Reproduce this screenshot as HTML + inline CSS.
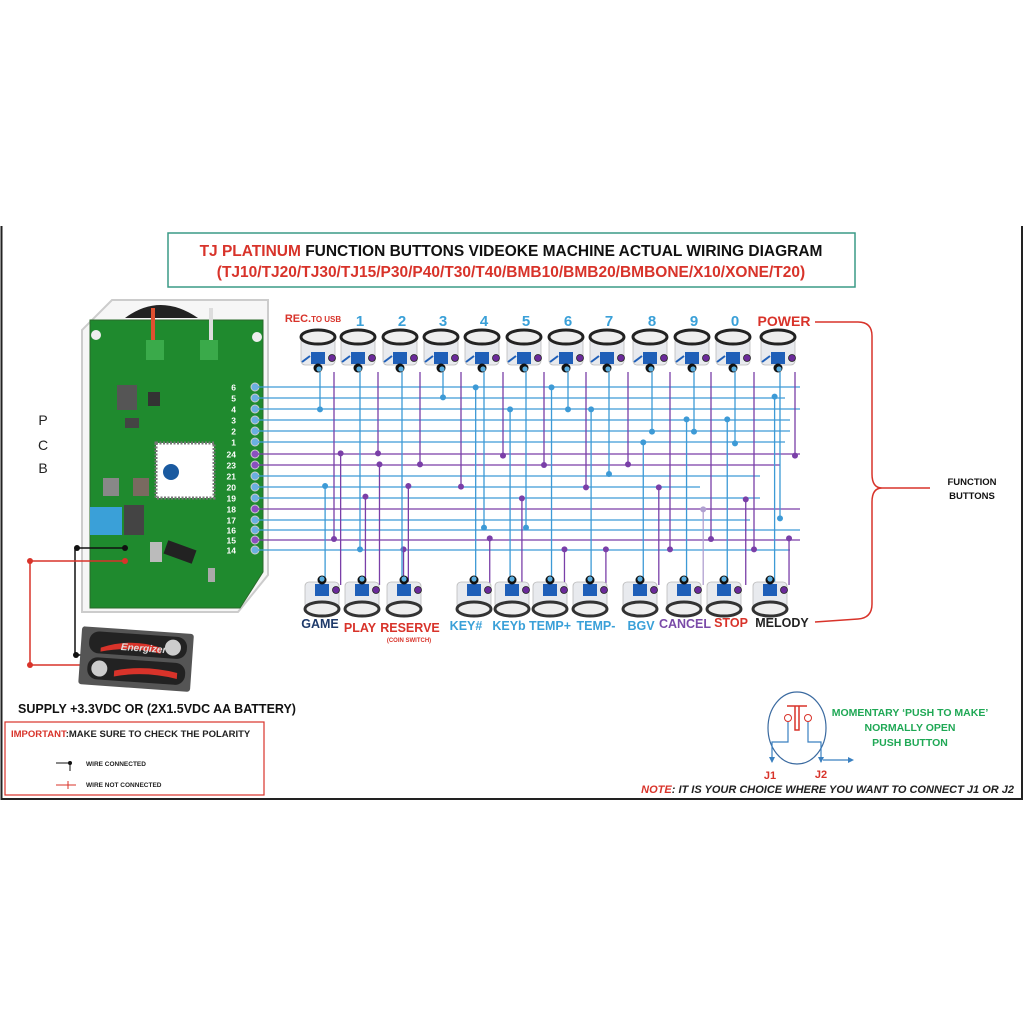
<!DOCTYPE html>
<html><head><meta charset="utf-8"><style>
html,body{margin:0;padding:0;background:#fff;width:1024px;height:1024px;overflow:hidden}
svg text{font-family:"Liberation Sans",sans-serif;font-weight:bold}
</style></head><body>
<svg id="s" width="1024" height="1024" viewBox="0 0 1024 1024" xmlns="http://www.w3.org/2000/svg">
<rect width="1024" height="1024" fill="#fff"/>
<path d="M1.5 226 V799 H1022 V226" fill="none" stroke="#222" stroke-width="2"/>
<!-- title -->
<rect x="168" y="233" width="687" height="54" fill="#fff" stroke="#3a9a86" stroke-width="1.5"/>
<text x="511" y="256" font-size="15.5" text-anchor="middle" fill="#111"><tspan fill="#d8332a">TJ PLATINUM</tspan> FUNCTION BUTTONS VIDEOKE MACHINE ACTUAL WIRING DIAGRAM</text>
<text x="511" y="277" font-size="15.5" text-anchor="middle" fill="#d8332a">(TJ10/TJ20/TJ30/TJ15/P30/P40/T30/T40/BMB10/BMB20/BMBONE/X10/XONE/T20)</text>
<!-- PCB -->
<path d="M112 300 H268 V575 L238 612 H82 V330 Z" fill="#f6f6f6" stroke="#ccc" stroke-width="2"/>
<path d="M125 318 Q160 292 198 318 Z" fill="#222"/>
<path d="M90 320 H263 V572 L240 608 H90 Z" fill="#1f8a2e"/>
<path d="M90 320 H263 V572 L240 608 H90 Z" fill="none" stroke="#2a6a2a" stroke-width="1"/>
<circle cx="96" cy="335" r="5" fill="#eee"/><circle cx="257" cy="337" r="5" fill="#eee"/>
<rect x="151" y="308" width="4" height="35" fill="#e05030"/>
<rect x="209" y="308" width="4" height="35" fill="#ddd"/>
<rect x="146" y="340" width="18" height="20" fill="#3aaa4a"/><rect x="200" y="340" width="18" height="20" fill="#3aaa4a"/>
<rect x="117" y="385" width="20" height="25" fill="#555"/><rect x="148" y="392" width="12" height="14" fill="#333"/>
<rect x="125" y="418" width="14" height="10" fill="#444"/>
<rect x="156" y="443" width="58" height="55" fill="#fff" stroke="#777" stroke-width="3" stroke-dasharray="2 1.5"/>
<circle cx="171" cy="472" r="8" fill="#1a5aa0"/>
<rect x="103" y="478" width="16" height="18" fill="#888"/><rect x="133" y="478" width="16" height="18" fill="#7a6a60"/>
<rect x="90" y="507" width="32" height="28" fill="#3aa0d8"/>
<rect x="124" y="505" width="20" height="30" fill="#444"/>
<rect x="165" y="545" width="30" height="14" fill="#222" transform="rotate(20 180 552)"/>
<rect x="150" y="542" width="12" height="20" fill="#bbb"/><rect x="208" y="568" width="7" height="14" fill="#aaa"/>
<g id="pins"></g>
<text x="43" y="425" font-size="14" font-weight="normal" style="font-weight:normal" text-anchor="middle" fill="#222">P</text>
<text x="43" y="450" font-size="14" style="font-weight:normal" text-anchor="middle" fill="#222">C</text>
<text x="43" y="473" font-size="14" style="font-weight:normal" text-anchor="middle" fill="#222">B</text>
<g id="wires"></g>
<g id="btns"></g>
<!-- labels top -->
<g font-size="15" fill="#3aa0d8" text-anchor="middle" id="toplab"></g>
<text x="313" y="322" font-size="11" fill="#d8332a" text-anchor="middle">REC.<tspan font-size="8">TO USB</tspan></text>
<text x="784" y="326" font-size="14" fill="#d8332a" text-anchor="middle">POWER</text>
<!-- bottom labels -->
<g font-size="12.5">
<text x="320" y="628" fill="#1e3a6a" text-anchor="middle">GAME</text>
<text x="360" y="632" fill="#d8332a" text-anchor="middle">PLAY</text>
<text x="410" y="632" fill="#d8332a" text-anchor="middle">RESERVE</text>
<text x="409" y="642" font-size="6" fill="#d8332a" text-anchor="middle">(COIN SWITCH)</text>
<text x="466" y="630" fill="#3aa0d8" text-anchor="middle">KEY#</text>
<text x="509" y="630" fill="#3aa0d8" text-anchor="middle">KEYb</text>
<text x="550" y="630" fill="#3aa0d8" text-anchor="middle">TEMP+</text>
<text x="596" y="630" fill="#3aa0d8" text-anchor="middle">TEMP-</text>
<text x="641" y="630" fill="#3aa0d8" text-anchor="middle">BGV</text>
<text x="685" y="628" fill="#7a4aa8" text-anchor="middle">CANCEL</text>
<text x="731" y="627" fill="#d8332a" text-anchor="middle">STOP</text>
<text x="782" y="627" fill="#222" text-anchor="middle">MELODY</text>
</g>
<!-- bracket -->
<path d="M815 322 H858 Q872 322 872 336 V474 Q872 488 882 488 Q872 488 872 502 V604 Q872 618 858 619 L815 622" fill="none" stroke="#d8332a" stroke-width="1.5"/>
<path d="M882 488 H930" stroke="#d8332a" stroke-width="1.5"/>
<text x="972" y="485" font-size="9.5" fill="#111" text-anchor="middle">FUNCTION</text>
<text x="972" y="499" font-size="9.5" fill="#111" text-anchor="middle">BUTTONS</text>
<!-- battery wiring -->
<path d="M75 548 H125 M75 548 V655 H88" stroke="#111" stroke-width="1.5" fill="none"/>
<path d="M30 561 H125 M30 561 V665 H85" stroke="#d8332a" stroke-width="1.5" fill="none"/>
<circle cx="77" cy="548" r="3" fill="#111"/><circle cx="125" cy="548" r="3" fill="#111"/>
<circle cx="30" cy="561" r="3" fill="#d8332a"/><circle cx="125" cy="561" r="3" fill="#d8332a"/><circle cx="30" cy="665" r="3" fill="#d8332a"/><circle cx="76" cy="655" r="3" fill="#111"/>
<g transform="rotate(4 135 660)">
<rect x="80" y="630" width="112" height="58" rx="3" fill="#555"/>
<rect x="88" y="634" width="98" height="22" rx="10" fill="#222"/>
<rect x="88" y="660" width="98" height="22" rx="10" fill="#222"/>
<path d="M100 650 Q130 638 160 646 L160 652 Q130 646 100 654Z" fill="#d8332a"/>
<path d="M115 672 Q145 664 178 670 L178 676 Q145 670 115 678Z" fill="#d8332a"/>
<text x="120" y="651" font-size="10" fill="#ddd" font-style="italic">Energizer</text>
<circle cx="172" cy="645" r="8" fill="#ccc"/><circle cx="100" cy="671" r="8" fill="#ccc"/>
</g>
<text x="18" y="713" font-size="12.5" fill="#111">SUPPLY +3.3VDC OR (2X1.5VDC AA BATTERY)</text>
<rect x="5" y="722" width="259" height="73" fill="none" stroke="#d8332a" stroke-width="1.2"/>
<text x="11" y="737" font-size="9.5" fill="#d8332a">IMPORTANT<tspan fill="#222">:MAKE SURE TO CHECK THE POLARITY</tspan></text>
<path d="M56 763 H70 V771" stroke="#111" stroke-width="1" fill="none"/><circle cx="70" cy="763" r="2" fill="#111"/>
<path d="M56 785 H76 M68 781 V789" stroke="#d8332a" stroke-width="1" fill="none"/>
<text x="86" y="766" font-size="6.5" fill="#222">WIRE CONNECTED</text>
<text x="86" y="787" font-size="6.5" fill="#222">WIRE NOT CONNECTED</text>
<!-- push button symbol -->
<ellipse cx="797" cy="728" rx="29" ry="36" fill="none" stroke="#3a6aa0" stroke-width="1.2"/>
<path d="M787 706 H807 M795 706 V730 H799 V706" stroke="#d8332a" stroke-width="1.5" fill="none"/>
<circle cx="788" cy="718" r="3.5" fill="none" stroke="#d8332a"/><circle cx="808" cy="718" r="3.5" fill="none" stroke="#d8332a"/>
<path d="M788 722 V742 H772 V762 M808 722 V742 H821 V762 M823 760 H851" stroke="#3a80c0" stroke-width="1.2" fill="none"/>
<path d="M769 757 L772 763 L775 757Z M818 757 L821 763 L824 757Z M848 757 L854 760 L848 763Z" fill="#3a80c0"/>
<text x="910" y="716" font-size="10.5" fill="#1fa855" text-anchor="middle">MOMENTARY ‘PUSH TO MAKE’</text>
<text x="910" y="731" font-size="10.5" fill="#1fa855" text-anchor="middle">NORMALLY OPEN</text>
<text x="910" y="746" font-size="10.5" fill="#1fa855" text-anchor="middle">PUSH BUTTON</text>
<text x="770" y="779" font-size="11" fill="#d8332a" text-anchor="middle">J1</text>
<text x="821" y="778" font-size="11" fill="#d8332a" text-anchor="middle">J2</text>
<text x="1014" y="793" font-size="11" font-style="italic" fill="#222" text-anchor="end"><tspan fill="#d8332a">NOTE</tspan>: IT IS YOUR CHOICE WHERE YOU WANT TO CONNECT J1 OR J2</text>
</svg>
<script>
var NS="http://www.w3.org/2000/svg";
function el(p,t,a,txt){var e=document.createElementNS(NS,t);for(var k in a)e.setAttribute(k,a[k]);if(txt!=null)e.textContent=txt;p.appendChild(e);return e;}
var B="#3d9ad6",P="#7a3fa8";
var pinsG=document.getElementById("pins"),W=document.getElementById("wires"),BT=document.getElementById("btns"),TL=document.getElementById("toplab");
var labs=["6","5","4","3","2","1","24","23","21","20","19","18","17","16","15","14"];
var ys=[387,398,409,420,431,442,454,465,476,487,498,509,520,530,540,550];
var pur={6:1,7:1,11:1,14:1};
var ends=[800,785,800,790,790,785,800,780,760,700,760,800,750,800,800,790];
for(var i=0;i<16;i++){
 var c=pur[i]?P:B;
 el(W,"line",{x1:258,y1:ys[i],x2:ends[i],y2:ys[i],stroke:c,"stroke-width":1.3});
 el(pinsG,"text",{x:236,y:ys[i]+3.5,"font-size":8.5,fill:"#fff","text-anchor":"end"},labs[i]);
 el(pinsG,"circle",{cx:255,cy:ys[i],r:4,fill:pur[i]?"#8a50c0":"#6ab0e0",stroke:"#ccc","stroke-width":1});
}
var topB=[320,360,402,443,484,526,568,609,652,694,735,780];
var topP=[334,378,420,461,503,544,586,628,670,711,754,795];
var numl=["","1","2","3","4","5","6","7","8","9","0",""];
var dots=[[190,328,B],[520,292,B],[610,262,B],[815,262,B],[860,328,B],[703,328,B],[922,328,B],[1180,358,B],[1290,358,B],[1087,395,B],[1203,395,B],[1310,430,B],[1063,427,B],[978,522,B],[203,558,B],[300,748,B],[640,683,B],[755,683,B],[1418,290,B],[1435,655,B],[1225,628,"#b0a0d0"],
[245,460,P],[343,460,P],[680,467,P],[1473,467,P],[350,493,P],[463,493,P],[790,495,P],[1020,493,P],[428,558,P],[570,560,P],[907,562,P],[1105,562,P],[312,590,P],[735,595,P],[1340,598,P],[230,717,P],[648,715,P],[1248,717,P],[1457,715,P],[415,748,P],[850,748,P],[962,748,P],[1138,748,P],[1368,748,P]];
function near(x,arr){for(var j=0;j<arr.length;j++)if(Math.abs(arr[j]-x)<5)return arr[j];return null;}
var used={};
dots.forEach(function(d){
 var x=250+d[0]/2.703,y=300+d[1]/3,c=d[2];
 var nx=near(x,c==B?topB:topP);
 if(nx!==null&&!used[nx+c]){used[nx+c]=1;x=nx;el(W,"line",{x1:x,y1:372,x2:x,y2:y,stroke:c,"stroke-width":1.3});}
 else el(W,"line",{x1:x,y1:y,x2:x,y2:585,stroke:c,"stroke-width":1.3});
 el(W,"circle",{cx:x,cy:y,r:3,fill:c});
});
// remaining top pins go down full
topB.forEach(function(x){if(!used[x+B])el(W,"line",{x1:x,y1:372,x2:x,y2:585,stroke:B,"stroke-width":1.3});});
topP.forEach(function(x){if(!used[x+P])el(W,"line",{x1:x,y1:360,x2:x,y2:585,stroke:P,"stroke-width":1.3});});
function button(cx,top,inv){
 var g=el(BT,"g",{});
 if(!inv){
  el(g,"rect",{x:cx-17,y:top+10,width:34,height:27,rx:4,fill:"#e8eaee",stroke:"#bbb","stroke-width":0.8});
  el(g,"ellipse",{cx:cx,cy:top+9,rx:17,ry:7,fill:"#eee",stroke:"#222","stroke-width":3});
  el(g,"rect",{x:cx-7,y:top+24,width:14,height:12,fill:"#1f5fb8"});
  el(g,"path",{d:"M"+(cx-16)+" "+(top+34)+" l8 -6",stroke:"#1f5fb8","stroke-width":2});
  el(g,"circle",{cx:cx,cy:top+40,r:4.5,fill:"#111"});
  el(g,"circle",{cx:cx+1,cy:top+41,r:2.6,fill:"#5aaee0"});
  el(g,"circle",{cx:cx+14,cy:top+30,r:3.5,fill:"#6a2a9a",stroke:"#222","stroke-width":0.8});
 }else{
  el(g,"rect",{x:cx-17,y:top+6,width:34,height:26,rx:4,fill:"#e8eaee",stroke:"#bbb","stroke-width":0.8});
  el(g,"ellipse",{cx:cx,cy:top+33,rx:17,ry:7,fill:"#eee",stroke:"#333","stroke-width":3});
  el(g,"rect",{x:cx-7,y:top+8,width:14,height:12,fill:"#1f5fb8"});
  el(g,"circle",{cx:cx,cy:top+4,r:4.5,fill:"#111"});
  el(g,"circle",{cx:cx,cy:top+3,r:2.6,fill:"#5aaee0"});
  el(g,"circle",{cx:cx+14,cy:top+14,r:3.5,fill:"#6a2a9a",stroke:"#222","stroke-width":0.8});
 }
}
topB.forEach(function(x,i){button(x-2,328,false);if(numl[i])el(TL,"text",{x:x,y:326},numl[i]);});
var bot=[322,362,404,474,512,550,590,640,684,724,770];
bot.forEach(function(x){button(x,576,true);});
</script>
</body></html>
